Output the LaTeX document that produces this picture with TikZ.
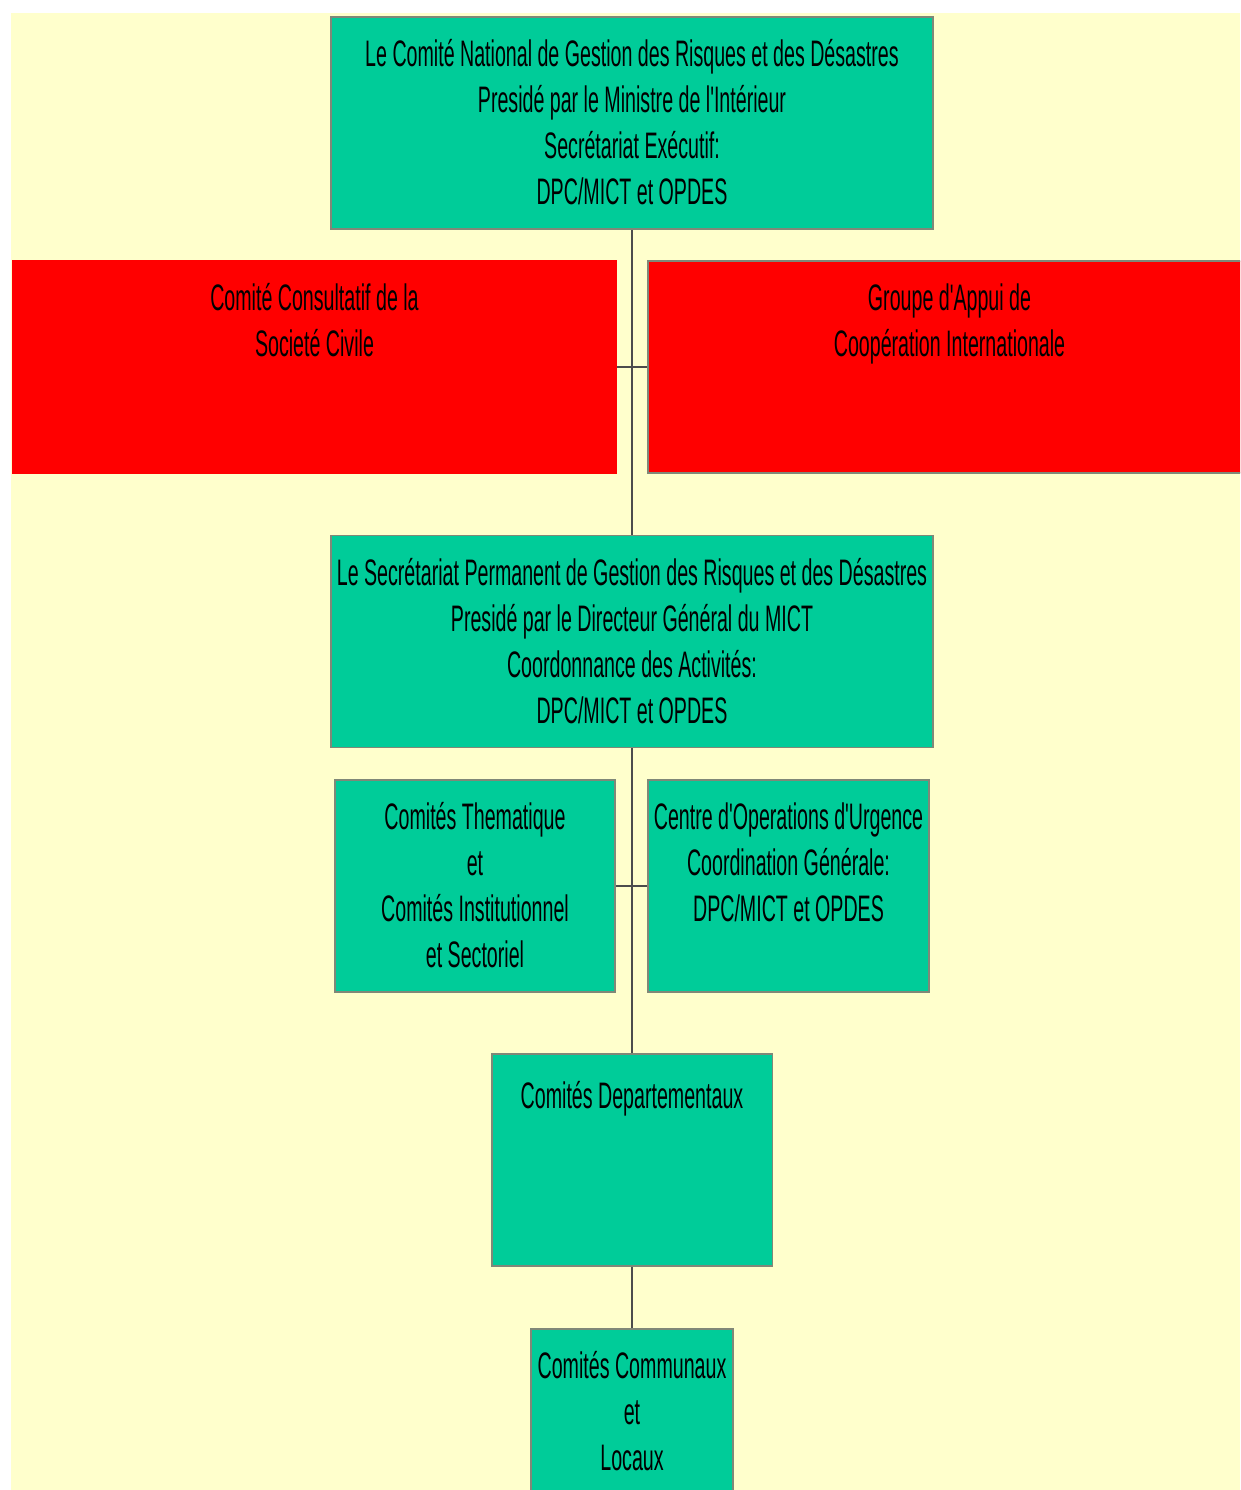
\documentclass[tikz,border=0pt]{standalone}
\usepackage{fontspec}
\setmainfont{Liberation Sans}[FakeStretch=0.532, Ligatures=TeXOff]
\definecolor{paper}{RGB}{255,255,204}
\definecolor{comgreen}{RGB}{0,204,153}
\definecolor{edge}{RGB}{128,136,120}
\tikzset{
  box/.style={draw=edge, line width=1.1pt, fill=comgreen, minimum height=4.24cm, inner sep=0pt},
  redbox/.style={box, fill=red},
  lbl/.style={anchor=north, align=center, inner sep=0pt, font=\fontsize{21}{26.2}\selectfont, execute at begin node=\strut},
  link/.style={draw=black!70, line width=0.8pt},
}
\begin{document}
\begin{tikzpicture}[x=0.02cm,y=-0.02cm]
  \useasboundingbox (0,0) rectangle (1240,1490);
  \clip (0,0) rectangle (1240,1490);
  \fill[paper] (11,13) rectangle (1240,1490);
  % boxes
  \node[box, minimum width=12.04cm] (cnat) at (632,123) {};
  \node[redbox, draw=red, minimum width=12.06cm] (civil) at (314.5,367) {};
  \node[redbox, minimum width=12.06cm] (intl) at (949.5,367) {};
  \node[box, minimum width=12.04cm] (sperm) at (632,641.5) {};
  \node[box, minimum width=5.6cm] (theme) at (475,886) {};
  \node[box, minimum width=5.62cm] (cou) at (788.5,886) {};
  \node[box, minimum width=5.62cm] (dept) at (632,1160) {};
  \node[box, minimum width=4.04cm] (commun) at (632,1435) {};
  % links
  \draw[link] (cnat) -- (sperm);
  \draw[link] (civil) -- (intl);
  \draw[link] (sperm) -- (dept);
  \draw[link] (theme) -- (cou);
  \draw[link] (dept) -- (commun);
  % texts
  \node[lbl] (cnat-t) at ([yshift=-0.46cm]cnat.north) {Le Comité National de Gestion des Risques et des Désastres\\Presidé par le Ministre de l'Intérieur\\Secrétariat Exécutif:\\DPC/MICT et OPDES};
  \node[lbl] (civil-t) at ([yshift=-0.46cm]civil.north) {Comité Consultatif de la\\Societé Civile};
  \node[lbl] (intl-t) at ([yshift=-0.46cm]intl.north) {Groupe d'Appui de\\Coopération Internationale};
  \node[lbl] (sperm-t) at ([yshift=-0.46cm]sperm.north) {Le Secrétariat Permanent de Gestion des Risques et des Désastres\\Presidé par le Directeur Général du MICT\\Coordonnance des Activités:\\DPC/MICT et OPDES};
  \node[lbl] (theme-t) at ([yshift=-0.46cm]theme.north) {Comités Thematique\\et\\Comités Institutionnel\\et Sectoriel};
  \node[lbl] (cou-t) at ([yshift=-0.46cm]cou.north) {Centre d'Operations d'Urgence\\Coordination Générale:\\DPC/MICT et OPDES};
  \node[lbl] (dept-t) at ([yshift=-0.46cm]dept.north) {Comités Departementaux};
  \node[lbl] (commun-t) at ([yshift=-0.46cm]commun.north) {Comités Communaux\\et\\Locaux};
\end{tikzpicture}
\end{document}
